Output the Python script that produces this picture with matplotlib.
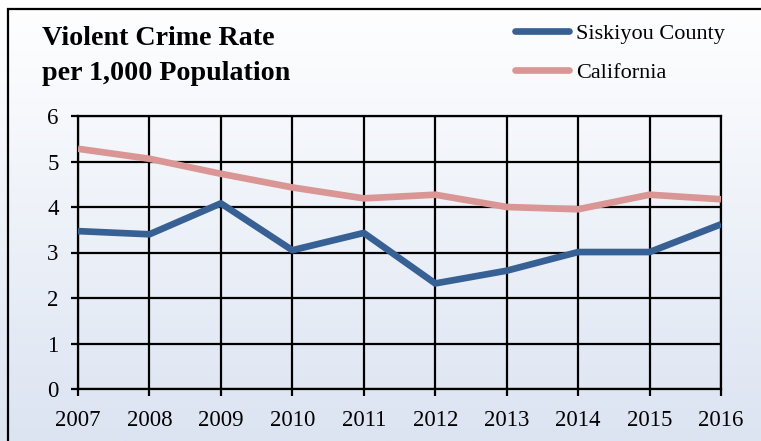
import matplotlib
matplotlib.use("Agg")
import matplotlib.pyplot as plt
import numpy as np
from matplotlib.patches import Rectangle
from matplotlib.colors import LinearSegmentedColormap

years = [2007, 2008, 2009, 2010, 2011, 2012, 2013, 2014, 2015, 2016]
siskiyou = [3.47, 3.40, 4.08, 3.05, 3.43, 2.32, 2.60, 3.01, 3.01, 3.62]
california = [5.28, 5.06, 4.73, 4.43, 4.19, 4.27, 4.00, 3.95, 4.27, 4.17]
series_names = ["Siskiyou County", "California"]
yticks = [0, 1, 2, 3, 4, 5, 6]
title_lines = ["Violent Crime Rate", "per 1,000 Population"]

W, H = 761, 441
fig = plt.figure(figsize=(W / 100, H / 100), dpi=100)
plt.rcParams['font.family'] = ['Liberation Serif', 'DejaVu Serif']

# background gradient
bg = fig.add_axes([0, 0, 1, 1], zorder=-10)
cmap = LinearSegmentedColormap.from_list("bg", ["#ffffff", "#dce4f2"])
grad = np.linspace(0, 1, 256).reshape(-1, 1)
bg.imshow(grad, aspect='auto', cmap=cmap, extent=[0, 1, 0, 1], origin='upper')
bg.set_xlim(0, 1)
bg.set_ylim(0, 1)
bg.axis('off')

# border
fig.patches.append(Rectangle((8 / W, -0.05), 1.1, 1 - 9 / H + 0.05, transform=fig.transFigure,
                             fill=False, edgecolor='black', linewidth=1.6, zorder=5))

ax = fig.add_axes([78 / W, 1 - 389 / H, (721 - 78) / W, (389 - 116) / H])
ax.patch.set_alpha(0)
ax.plot(years, siskiyou, color='#376094', linewidth=4.8, solid_capstyle='butt',
        solid_joinstyle='round', label=series_names[0], zorder=4)
ax.plot(years, california, color='#d99694', linewidth=4.8, solid_capstyle='butt',
        solid_joinstyle='round', label=series_names[1], zorder=3)
ax.set_xlim(years[0], years[-1])
ax.set_ylim(0, 6)
ax.set_xticks(years)
ax.set_xticklabels([str(y) for y in years])
ax.set_yticks(yticks)
ax.grid(True, color='black', linewidth=1.6)
for s in ax.spines.values():
    s.set_linewidth(1.6)
ax.tick_params(axis='both', length=5, width=1.6, labelsize=16.5, direction='out')
ax.tick_params(axis='y', pad=9)
ax.tick_params(axis='x', pad=10)

fig.text(42 / W, 1 - 45 / H, title_lines[0], fontsize=20.2, fontweight='bold', va='baseline', ha='left')
fig.text(42 / W, 1 - 80 / H, title_lines[1], fontsize=20.2, fontweight='bold', va='baseline', ha='left')

handles, labels = ax.get_legend_handles_labels()
leg = fig.legend(handles, labels, loc='upper left', bbox_to_anchor=(495 / W, 1 - 3 / H),
                 frameon=False, fontsize=16, handlelength=2.45, handletextpad=0.3,
                 labelspacing=0.85)
for h in leg.get_lines():
    h.set_solid_capstyle('round')
    h.set_linewidth(4.8)

fig.savefig("out.png", dpi=100)
